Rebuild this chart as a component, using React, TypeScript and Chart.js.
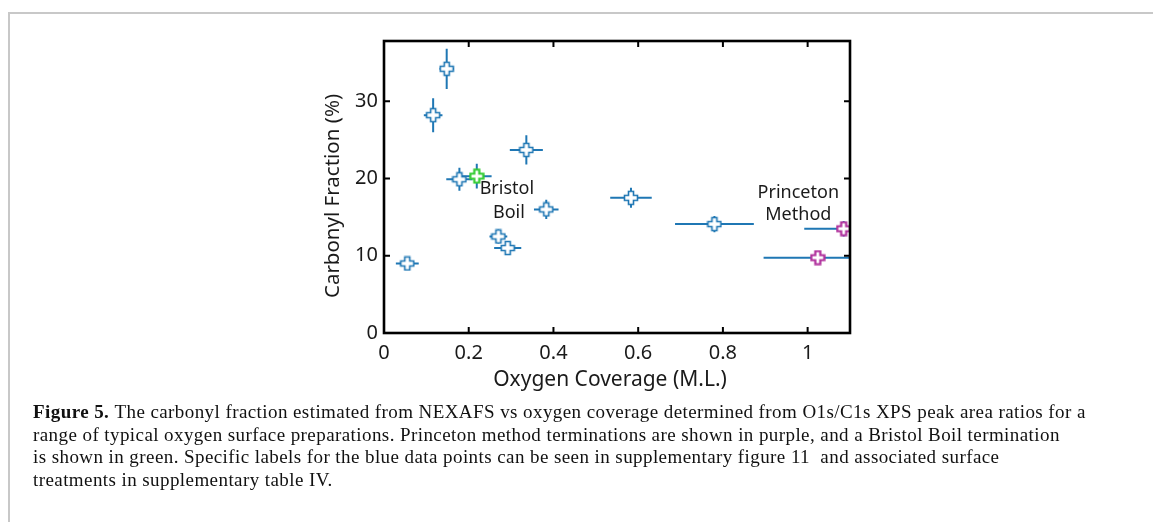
import React, { useEffect, useRef } from "react";
import { Chart, registerables } from "chart.js";
Chart.register(...registerables);

// Blue data points (oxygen coverage in M.L., carbonyl fraction in %)
const blueX = [0.148, 0.116, 0.336, 0.178, 0.383, 0.27, 0.292, 0.055, 0.583, 0.78];
const blueY = [34.2, 28.2, 23.7, 19.9, 16.0, 12.5, 11.0, 9.0, 17.5, 14.1];
const blueXErr = [0.017, 0.022, 0.039, 0.031, 0.029, 0.021, 0.032, 0.027, 0.049, 0.093];
const blueYErr = [2.6, 2.2, 1.9, 1.5, 1.25, 0.9, 0.9, 0.2, 1.3, 1.05];

// Bristol Boil (green)
const greenX = [0.219];
const greenY = [20.3];
const greenXErr = [0.035];
const greenYErr = [1.6];

// Princeton Method (purple)
const purpleX = [1.085, 1.024];
const purpleY = [13.5, 9.75];
const purpleXErr = [0.093, 0.128];
const purpleYErr = [1.0, 0.15];

const xTicks = [0, 0.2, 0.4, 0.6, 0.8, 1];
const yTicks = [0, 10, 20, 30];

const xTitle = "Oxygen Coverage (M.L.)";
const yTitle = "Carbonyl Fraction (%)";

const labelTexts = ["Bristol", "Boil", "Princeton", "Method"];
const labelX = [0.29, 0.295, 0.978, 0.978];
const labelY = [18.6, 15.6, 18.15, 15.27];

const captionLines = [
  "The carbonyl fraction estimated from NEXAFS vs oxygen coverage determined from O1s/C1s XPS peak area ratios for a",
  "range of typical oxygen surface preparations. Princeton method terminations are shown in purple, and a Bristol Boil termination",
  "is shown in green. Specific labels for the blue data points can be seen in supplementary figure 11  and associated surface",
  "treatments in supplementary table IV.",
];

const BLUE = "#1f77b4";
const GREEN = "#33cc33";
const PURPLE = "#b0309c";
const SANS = "'Noto Sans', 'Open Sans', sans-serif";
const TEXT = "#1a1a1a";

function makePlus(color: string, lw: number) {
  const c = document.createElement("canvas");
  const s = 16;
  c.width = s;
  c.height = s;
  const ctx = c.getContext("2d")!;
  const m = s / 2, a = 2.5, L = 6.5;
  ctx.beginPath();
  ctx.moveTo(m - a, m - L);
  ctx.lineTo(m + a, m - L);
  ctx.lineTo(m + a, m - a);
  ctx.lineTo(m + L, m - a);
  ctx.lineTo(m + L, m + a);
  ctx.lineTo(m + a, m + a);
  ctx.lineTo(m + a, m + L);
  ctx.lineTo(m - a, m + L);
  ctx.lineTo(m - a, m + a);
  ctx.lineTo(m - L, m + a);
  ctx.lineTo(m - L, m - a);
  ctx.lineTo(m - a, m - a);
  ctx.closePath();
  ctx.fillStyle = "#ffffff";
  ctx.fill();
  ctx.lineWidth = lw;
  ctx.strokeStyle = color;
  ctx.stroke();
  return c;
}

const errorBarPlugin = {
  id: "errorBars",
  beforeDatasetsDraw(chart: any) {
    const { ctx, chartArea, scales } = chart;
    const xs = scales.x, ys = scales.y;
    ctx.save();
    ctx.beginPath();
    ctx.rect(chartArea.left, chartArea.top, chartArea.right - chartArea.left, chartArea.bottom - chartArea.top);
    ctx.clip();
    ctx.strokeStyle = BLUE;
    ctx.lineWidth = 2;
    chart.data.datasets.forEach((ds: any) => {
      ds.data.forEach((p: any, i: number) => {
        const xe = ds.xErr[i], ye = ds.yErr[i];
        const px = xs.getPixelForValue(p.x), py = ys.getPixelForValue(p.y);
        ctx.beginPath();
        ctx.moveTo(xs.getPixelForValue(p.x - xe), py);
        ctx.lineTo(xs.getPixelForValue(p.x + xe), py);
        ctx.moveTo(px, ys.getPixelForValue(p.y - ye));
        ctx.lineTo(px, ys.getPixelForValue(p.y + ye));
        ctx.stroke();
      });
    });
    ctx.restore();
  },
};

const framePlugin = {
  id: "frame",
  afterDatasetsDraw(chart: any) {
    const { ctx, chartArea, scales } = chart;
    const { left, right, top, bottom } = chartArea;
    ctx.save();
    // annotations
    ctx.fillStyle = TEXT;
    ctx.font = `18px ${SANS}`;
    ctx.textAlign = "center";
    ctx.textBaseline = "middle";
    labelTexts.forEach((t, i) => {
      ctx.fillText(t, scales.x.getPixelForValue(labelX[i]), scales.y.getPixelForValue(labelY[i]));
    });
    // axis titles
    ctx.font = `21px ${SANS}`;
    ctx.fillText(xTitle, left + (right - left) * 0.485, bottom + 47);
    ctx.save();
    ctx.translate(left - 51, (top + bottom) / 2 + 9);
    ctx.rotate(-Math.PI / 2);
    ctx.font = `20.5px ${SANS}`;
    ctx.fillText(yTitle, 0, 0);
    ctx.restore();
    // ticks
    ctx.strokeStyle = "#000";
    ctx.lineWidth = 2;
    const tl = 6;
    xTicks.forEach((v) => {
      const x = scales.x.getPixelForValue(v);
      ctx.beginPath();
      ctx.moveTo(x, bottom);
      ctx.lineTo(x, bottom - tl);
      ctx.moveTo(x, top);
      ctx.lineTo(x, top + tl);
      ctx.stroke();
    });
    yTicks.forEach((v) => {
      const y = scales.y.getPixelForValue(v);
      ctx.beginPath();
      ctx.moveTo(left, y);
      ctx.lineTo(left + tl, y);
      ctx.moveTo(right, y);
      ctx.lineTo(right - tl, y);
      ctx.stroke();
    });
    // frame
    ctx.lineWidth = 2.6;
    ctx.strokeRect(left, top, right - left, bottom - top);
    ctx.restore();
  },
};

function App() {
  const ref = useRef<HTMLCanvasElement>(null);
  useEffect(() => {
    if (!ref.current) return;
    const mk = (xs: number[], ys: number[]) => xs.map((x, i) => ({ x, y: ys[i] }));
    const chart = new Chart(ref.current, {
      type: "scatter",
      data: {
        datasets: [
          {
            data: mk(blueX, blueY),
            xErr: blueXErr,
            yErr: blueYErr,
            pointStyle: makePlus(BLUE, 1.6),
            pointRadius: 8,
          } as any,
          {
            data: mk(greenX, greenY),
            xErr: greenXErr,
            yErr: greenYErr,
            pointStyle: makePlus(GREEN, 2.2),
            pointRadius: 8,
          } as any,
          {
            data: mk(purpleX, purpleY),
            xErr: purpleXErr,
            yErr: purpleYErr,
            pointStyle: makePlus(PURPLE, 2.2),
            pointRadius: 8,
          } as any,
        ],
      },
      options: {
        animation: false,
        responsive: false,
        maintainAspectRatio: false,
        events: [],
        layout: { padding: { left: 300, right: 303, top: 41, bottom: 129 } },
        plugins: { legend: { display: false }, tooltip: { enabled: false } },
        scales: {
          x: {
            type: "linear",
            min: 0,
            max: 1.1,
            afterBuildTicks: (s: any) => {
              s.ticks = xTicks.map((v) => ({ value: v }));
            },
            afterFit: (s: any) => {
              s.height = 60;
            },
            grid: { display: false, drawTicks: false },
            border: { display: false },
            ticks: {
              padding: 8,
              color: TEXT,
              font: { family: SANS, size: 20 },
              callback: (v: any) => String(Number(v)),
            },
          },
          y: {
            type: "linear",
            min: 0,
            max: 37.8,
            afterBuildTicks: (s: any) => {
              s.ticks = yTicks.map((v) => ({ value: v }));
            },
            afterFit: (s: any) => {
              s.width = 84;
            },
            grid: { display: false, drawTicks: false },
            border: { display: false },
            ticks: {
              padding: 6,
              color: TEXT,
              font: { family: SANS, size: 20 },
              callback: (v: any) => String(Number(v)),
            },
          },
        },
      } as any,
      plugins: [errorBarPlugin, framePlugin],
    });
    return () => chart.destroy();
  }, []);

  return (
    <div style={{ position: "fixed", left: 0, top: 0, width: 1153, height: 522, background: "#fff", overflow: "hidden" }}>
      <div style={{ position: "absolute", left: 8, top: 12, width: 1145, height: 2, background: "#c8c8c8" }} />
      <div style={{ position: "absolute", left: 8, top: 12, width: 2, height: 510, background: "#c8c8c8" }} />
      <canvas ref={ref} width={1153} height={522} style={{ position: "absolute", left: 0, top: 0, width: 1153, height: 522 }} />
      <div
        style={{
          position: "absolute",
          left: 33,
          top: 401,
          fontFamily: "'Liberation Serif', 'Times New Roman', serif",
          fontSize: 19,
          letterSpacing: "0.42px",
          lineHeight: "22.7px",
          color: "#111",
          whiteSpace: "pre",
        }}
      >
        {captionLines.map((l, i) => (
          <div key={i}>
            {i === 0 ? <b>Figure 5. </b> : null}
            {l}
          </div>
        ))}
      </div>
    </div>
  );
}

export default App;
